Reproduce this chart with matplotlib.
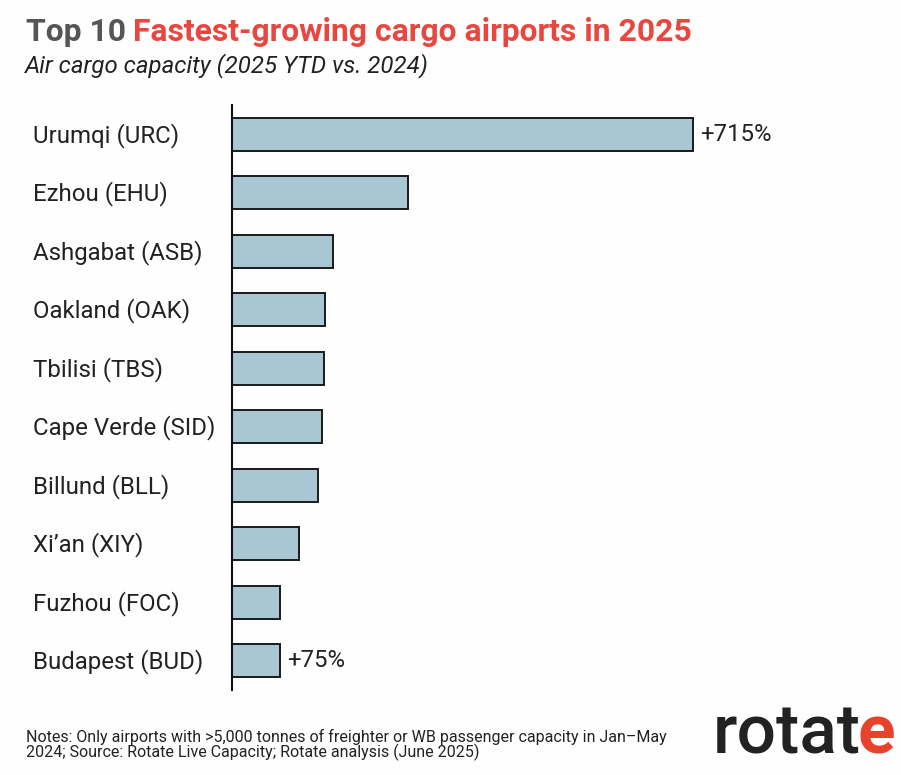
import matplotlib
matplotlib.use("Agg")
import matplotlib.pyplot as plt

plt.rcParams['font.family'] = ['Roboto', 'DejaVu Sans']

airports = ["Urumqi (URC)", "Ezhou (EHU)", "Ashgabat (ASB)", "Oakland (OAK)", "Tbilisi (TBS)",
            "Cape Verde (SID)", "Billund (BLL)", "Xi\u2019an (XIY)", "Fuzhou (FOC)", "Budapest (BUD)"]
growth = [715, 273, 157, 145, 142, 139, 133, 104, 75, 75]
shown_labels = {0: "+715%", 9: "+75%"}

W, H = 901, 775
fig = plt.figure(figsize=(W / 100, H / 100), dpi=100, facecolor="#fefefe")
ax = fig.add_axes([232 / W, 1 - 690 / H, (900 - 232) / W, 585 / H])
ax.set_facecolor("none")

ax.barh(range(len(growth)), growth, height=0.56, color="#a9c6d3", edgecolor="#1a1a1a", linewidth=1.4)
ax.set_ylim(9.5, -0.5)
ax.set_xlim(0, (900 - 232) / (461 / 715))
ax.set_yticks(range(len(airports)))
ax.set_yticklabels([])
ax.set_xticks([])
for s in ("top", "right", "bottom"):
    ax.spines[s].set_visible(False)
ax.spines["left"].set_linewidth(1.5)
ax.spines["left"].set_color("#111111")
ax.tick_params(axis="y", length=0)

for i, name in enumerate(airports):
    ax.annotate(name, (0, i), xycoords=("axes fraction", "data"), xytext=(33 - 232, -1),
                textcoords="offset pixels", ha="left", va="center", fontsize=17.3, color="#222222")
for i, lab in shown_labels.items():
    ax.annotate(lab, (growth[i], i), xytext=(7, 0), textcoords="offset pixels",
                ha="left", va="center", fontsize=17.3, color="#222222")

fig.text(26 / W, 1 - 41 / H, "Top 10", fontsize=22.95, fontweight="bold", color="#555555", ha="left", va="baseline")
fig.text(133 / W, 1 - 41 / H, "Fastest-growing cargo airports in 2025", fontsize=22.95, fontweight="bold",
         color="#e8473f", ha="left", va="baseline")
fig.text(25 / W, 1 - 72 / H, "Air cargo capacity (2025 YTD vs. 2024)", fontsize=17.3, style="italic",
         color="#222222", ha="left", va="baseline")
fig.text(26 / W, 1 - 742 / H, "Notes: Only airports with >5,000 tonnes of freighter or WB passenger capacity in Jan\u2013May",
         fontsize=11.5, color="#222222", ha="left", va="baseline")
fig.text(26 / W, 1 - 757 / H, "2024; Source: Rotate Live Capacity; Rotate analysis (June 2025)",
         fontsize=11.5, color="#222222", ha="left", va="baseline")

fig.text(713 / W, 1 - 754 / H, "rotat", fontsize=50, fontweight="medium", color="#222222", ha="left", va="baseline")
fig.text(858 / W, 1 - 754 / H, "e", fontsize=50, fontweight="bold", color="#e8412c", ha="left", va="baseline")

fig.savefig("out.png", dpi=100, facecolor=fig.get_facecolor())
